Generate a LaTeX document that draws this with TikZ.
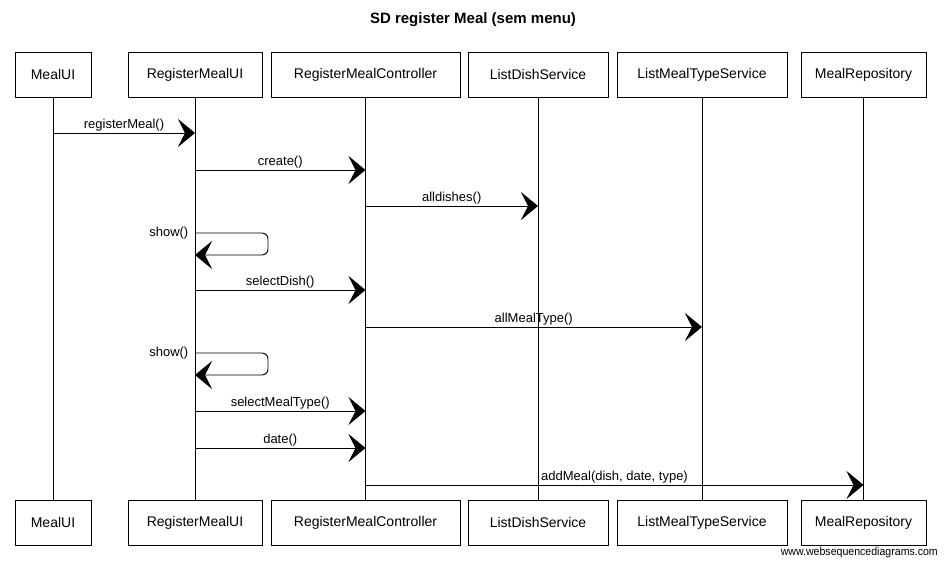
\documentclass[tikz,border=0pt]{standalone}
\usepackage{fontspec}
\setmainfont{Liberation Sans}
\usetikzlibrary{arrows.meta}
\begin{document}
\begin{tikzpicture}[x=1pt,y=-1pt,
  actor/.style={draw=black, line width=0.8pt, minimum height=45pt, inner sep=0pt, font=\fontsize{14}{16}\selectfont, fill=white},
  life/.style={draw=black, line width=0.6pt},
  msg/.style={draw=black, line width=0.9pt, -{Stealth[length=17pt,width=28pt,inset=7pt]}},
  lbl/.style={font=\fontsize{13}{15}\selectfont, inner sep=1.5pt},
  rounded corners=0pt]
\useasboundingbox (0,0) rectangle (946,568);
\node[font=\bfseries\fontsize{15}{17}\selectfont] (title) at (473,20) {SD register Meal (sem menu)};
% top boxes
\node[actor, minimum width=76pt] (t1) at (53,74.5) {MealUI};
\node[actor, minimum width=134pt] (t2) at (195,74.5) {RegisterMealUI};
\node[actor, minimum width=189pt] (t3) at (365.5,74.5) {RegisterMealController};
\node[actor, minimum width=140pt] (t4) at (538,74.5) {ListDishService};
\node[actor, minimum width=170pt] (t5) at (702,74.5) {ListMealTypeService};
\node[actor, minimum width=125pt] (t6) at (863.5,74.5) {MealRepository};
% bottom boxes
\node[actor, minimum width=76pt] (b1) at (53,522.5) {MealUI};
\node[actor, minimum width=134pt] (b2) at (195,522.5) {RegisterMealUI};
\node[actor, minimum width=189pt] (b3) at (365.5,522.5) {RegisterMealController};
\node[actor, minimum width=140pt] (b4) at (538,522.5) {ListDishService};
\node[actor, minimum width=170pt] (b5) at (702,522.5) {ListMealTypeService};
\node[actor, minimum width=125pt] (b6) at (863.5,522.5) {MealRepository};
% lifelines
\foreach \i in {1,...,6} { \draw[life] (t\i.south) -- (b\i.north); }
% message coordinates
\coordinate (a1) at (t1.south |- 0,133); \coordinate (a2) at (t2.south |- 0,133);
\coordinate (c2) at (t2.south |- 0,170); \coordinate (c3) at (t3.south |- 0,170);
\coordinate (d3) at (t3.south |- 0,206); \coordinate (d4) at (t4.south |- 0,206);
\coordinate (s1a) at (t2.south |- 0,233); \coordinate (s1b) at (t2.south |- 0,255);
\coordinate (e2) at (t2.south |- 0,290); \coordinate (e3) at (t3.south |- 0,290);
\coordinate (f3) at (t3.south |- 0,327); \coordinate (f5) at (t5.south |- 0,327);
\coordinate (s2a) at (t2.south |- 0,353); \coordinate (s2b) at (t2.south |- 0,375);
\coordinate (g2) at (t2.south |- 0,411); \coordinate (g3) at (t3.south |- 0,411);
\coordinate (h2) at (t2.south |- 0,448); \coordinate (h3) at (t3.south |- 0,448);
\coordinate (k3) at (t3.south |- 0,485); \coordinate (k6) at (t6.south |- 0,485);
% messages
\draw[msg] (a1) -- node[lbl, above] {registerMeal()} (a2);
\draw[msg] (c2) -- node[lbl, above] {create()} (c3);
\draw[msg] (d3) -- node[lbl, above] {alldishes()} (d4);
\draw[msg, rounded corners=6pt] (s1a) -- ++(73,0) -- ++(0,22) -- (s1b);
\node[lbl, anchor=east] (l4) at ([xshift=-5pt]s1a) {show()};
\draw[msg] (e2) -- node[lbl, above] {selectDish()} (e3);
\draw[msg] (f3) -- node[lbl, above] {allMealType()} (f5);
\draw[msg, rounded corners=6pt] (s2a) -- ++(73,0) -- ++(0,22) -- (s2b);
\node[lbl, anchor=east] (l7) at ([xshift=-5pt]s2a) {show()};
\draw[msg] (g2) -- node[lbl, above] {selectMealType()} (g3);
\draw[msg] (h2) -- node[lbl, above] {date()} (h3);
\draw[msg] (k3) -- node[lbl, above] {addMeal(dish, date, type)} (k6);
% watermark
\node[anchor=east, font=\fontsize{11.5}{13}\selectfont, inner sep=0pt, xscale=0.92, transform shape] (wm) at (938,553) {www.websequencediagrams.com};
\end{tikzpicture}
\end{document}
